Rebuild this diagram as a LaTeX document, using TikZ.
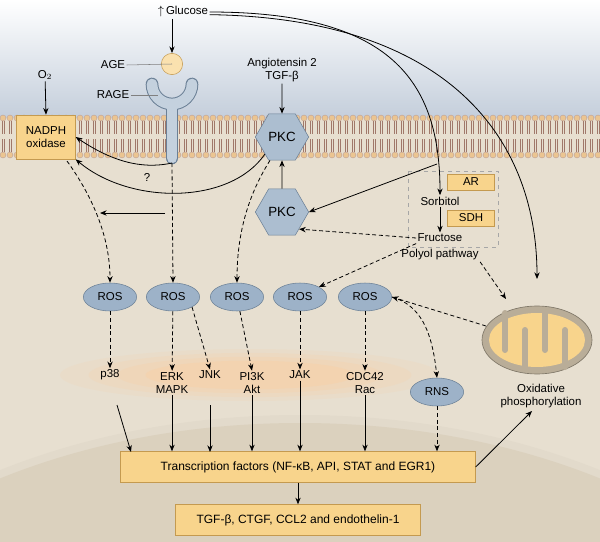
\documentclass[tikz,border=0pt]{standalone}
\usepackage{fontspec}
\setmainfont{Liberation Sans}
\usetikzlibrary{shapes.geometric,arrows.meta}
\definecolor{boxf}{HTML}{F8D48C}
\definecolor{boxd}{HTML}{C49A50}
\definecolor{rosf}{HTML}{9DB2C8}
\definecolor{rosd}{HTML}{6B8096}
\definecolor{cyto}{HTML}{E7DFD0}
\definecolor{nucl}{HTML}{DBD1BE}
\definecolor{head}{HTML}{EBC591}
\definecolor{tail}{HTML}{A0786A}
\definecolor{sky}{HTML}{C4CEDB}
\definecolor{mitw}{HTML}{B9AD98}
\tikzset{
 lbl/.style={font=\fontsize{8.6}{10}\selectfont, align=center, inner sep=1pt},
 box/.style={lbl, draw=boxd, fill=boxf, line width=0.5pt},
 ros/.style={lbl, ellipse, draw=rosd, fill=rosf, minimum width=40pt, minimum height=21pt, inner sep=0pt},
 pkc/.style={lbl, regular polygon, regular polygon sides=6, draw=rosd, fill=rosf!85!white, minimum size=40pt, inner sep=0pt, font=\fontsize{10}{11}\selectfont},
 arr/.style={-{Stealth[length=5pt,width=4pt]}, line width=0.6pt},
 darr/.style={arr, dashed, dash pattern=on 3pt off 2pt},
}
\begin{document}
\begin{tikzpicture}[x=0.75pt,y=-0.75pt]
\useasboundingbox (0,0) rectangle (600,542);
% backgrounds
\fill[cyto] (0,115) rectangle (600,542);
\shade[top color=white, bottom color=sky] (0,0) rectangle (600,118);
\begin{scope}
\clip (0,0) rectangle (600,542);
\fill[nucl!80!white] (300,770) ellipse [x radius=560, y radius=355];
\fill[nucl] (300,773) ellipse [x radius=555, y radius=350];
\end{scope}
\foreach \r/\o in {1/0.12,0.85/0.15,0.7/0.2,0.55/0.25} {
  \fill[orange!40, opacity=\o] (250,375) ellipse [x radius=\r*190, y radius=\r*26];
}
% membrane
\foreach \i in {0,...,86} {
  \draw[tail, line width=0.5pt] (\i*7+2,121) -- (\i*7+2,134) (\i*7+4,121) -- (\i*7+4,134);
  \draw[tail, line width=0.5pt] (\i*7+2,139) -- (\i*7+2,152) (\i*7+4,139) -- (\i*7+4,152);
  \fill[head, draw=tail!70, line width=0.3pt] (\i*7+3,118) circle [radius=3];
  \fill[head, draw=tail!70, line width=0.3pt] (\i*7+3,155) circle [radius=3];
}
% RAGE receptor
\draw[rosd, line width=9.5pt, line cap=round] (152,84) arc[start angle=180,end angle=0,radius=20];
\draw[rosd, line width=9.5pt, line cap=round] (172,106) -- (172,158);
\draw[rosf!60!white, line width=8pt, line cap=round] (152,84) arc[start angle=180,end angle=0,radius=20];
\draw[rosf!60!white, line width=8pt, line cap=round] (172,106) -- (172,158);
\coordinate (ragebot) at (172,163);
% nodes
\node[lbl] (glu) at (183,12) {$\uparrow$\,Glucose};
\node[circle, draw=boxd, fill=boxf!70!white, minimum size=16pt, inner sep=0pt] (age) at (172,64) {};
\node[lbl] (agel) at (113,65) {AGE};
\node[lbl] (ragel) at (113,95) {RAGE};
\draw[gray, line width=0.4pt] (agel.east) -- (age.center);
\draw[gray, line width=0.4pt] (ragel.east) -- (158,95);
\node[lbl] (o2) at (45,75) {O$_2$};
\node[box, minimum width=44pt, minimum height=33pt] (nad) at (46,137) {NADPH\\oxidase};
\node[lbl] (ang) at (282,70) {Angiotensin 2\\TGF-β};
\node[pkc] (pkc1) at (282,137) {PKC};
\node[pkc] (pkc2) at (282,212) {PKC};
% polyol
\draw[gray!70, dashed, line width=0.4pt] (408,171) rectangle (498,247);
\node[box, minimum width=35pt, minimum height=12pt] (ar) at (471,182) {AR};
\node[box, minimum width=35pt, minimum height=12pt] (sdh) at (471,218) {SDH};
\node[lbl] (sor) at (440,201) {Sorbitol};
\node[lbl] (fru) at (440,238) {Fructose};
\node[lbl] (pol) at (440,255) {Polyol pathway};
% ROS
\node[ros] (r1) at (110,297) {ROS};
\node[ros] (r2) at (173,297) {ROS};
\node[ros] (r3) at (237,297) {ROS};
\node[ros] (r4) at (300,297) {ROS};
\node[ros] (r5) at (365,297) {ROS};
\node[ros] (rns) at (437,392) {RNS};
\node[lbl] (p38) at (110,375) {p38};
\node[lbl] (erk) at (172,383) {ERK\\MAPK};
\node[lbl] (jnk) at (210,375) {JNK};
\node[lbl] (pi3) at (252,383) {PI3K\\Akt};
\node[lbl] (jak) at (300,375) {JAK};
\node[lbl] (cdc) at (365,383) {CDC42\\Rac};
% mitochondrion
\fill[mitw, draw=mitw!70!black, line width=0.5pt] (537,340) ellipse [x radius=55, y radius=34];
\fill[boxf] (537,340) ellipse [x radius=48, y radius=27];
\foreach \xx in {505,545} \draw[mitw, line width=4.5pt, line cap=round] (\xx,313) -- (\xx,350);
\foreach \xx in {525,565} \draw[mitw, line width=4.5pt, line cap=round] (\xx,367) -- (\xx,330);
\node[lbl] (oxp) at (541,396) {Oxidative\\phosphorylation};
% TFs
\node[box, minimum width=266pt, minimum height=23pt, font=\fontsize{9}{10}\selectfont] (tf) at (298,467) {Transcription factors (NF-κB, API, STAT and EGR1)};
\node[box, minimum width=184pt, minimum height=23pt, font=\fontsize{9}{10}\selectfont] (out) at (298,520) {TGF-β, CTGF, CCL2 and endothelin-1};
% arrows top
\draw[arr] (glu.south -| age) -- (age.north);
\draw[arr] (o2) -- (nad.north);
\draw[arr] (ang) -- (pkc1.north);
\draw[arr] (pkc2) -- (pkc1);
\draw[arr] (glu.east) .. controls (390,12) and (440,80) .. (sor.north);
\draw[arr] ([yshift=-2pt]glu.east) .. controls (450,18) and (537,140) .. (537,279);
\coordinate (cv) at (437,164);
\draw[arr] (cv) -- (pkc2.east);
\draw[arr] (sor) -- (fru);
\draw[darr] (fru.west) -- (pkc2.south east);
\draw[darr] (fru.south west) -- (r4.north east);
\draw[darr] (pol.south east) -- (506,299);
\draw[darr] (486,326) -- (r5.east);
\draw[arr] (ragebot) .. controls (140,170) and (110,160) .. (nad.east);
\node[lbl] at (147,177) {?};
\draw[arr] (pkc1.south west) .. controls (230,205) and (130,205) .. (nad.south east);
\coordinate (hs) at (165,213);
\coordinate (he) at (100,213);
\draw[arr] (hs) -- (he);
\draw[darr] (67,161) .. controls (95,200) and (110,240) .. (r1.north);
\draw[darr] (ragebot) -- (r2.north);
\draw[darr] ([xshift=-9pt]pkc1.south) .. controls (245,200) and (237,240) .. (r3.north);
% ROS -> kinases
\draw[darr] (r1) -- (p38);
\draw[darr] (r2) -- (erk);
\draw[darr] (r2.south east) -- (jnk.north);
\draw[darr] (r3) -- (pi3.north);
\draw[darr] (r4) -- (jak);
\draw[darr] (r5) -- (cdc);
\draw[darr] (r5.east) .. controls (420,305) and (432,330) .. (rns.north);
% kinases -> TF
\draw[arr] (117,405) -- (131,452);
\draw[arr] (erk.south) -- (erk.south |- tf.north);
\draw[arr] (210,405) -- (210,452);
\draw[arr] (pi3.south) -- (pi3.south |- tf.north);
\draw[arr] (jak.south) -- (jak.south |- tf.north);
\draw[arr] (cdc.south) -- (cdc.south |- tf.north);
\draw[darr] (rns.south) -- (rns.south |- tf.north);
\draw[arr] (tf.east) -- (532,411);
\draw[arr] (tf.south) -- (out.north);
\end{tikzpicture}
\end{document}
